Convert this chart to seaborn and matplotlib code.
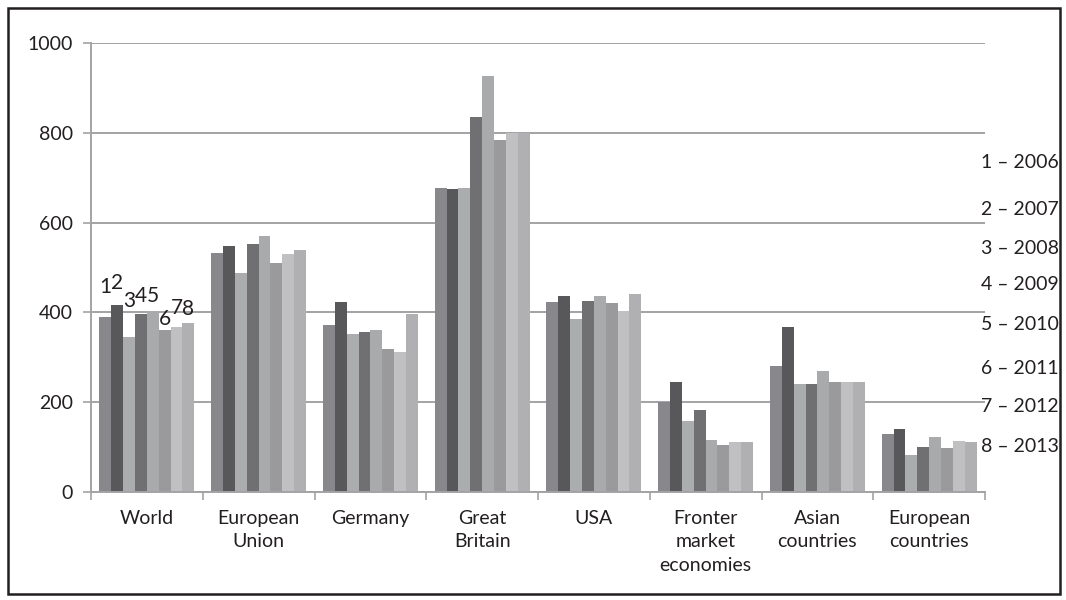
import numpy as np
import pandas as pd
import matplotlib
matplotlib.use("Agg")
import matplotlib.pyplot as plt
import seaborn as sns
from matplotlib.patches import Rectangle

categories = ["World", "European\nUnion", "Germany", "Great\nBritain", "USA",
              "Fronter\nmarket\neconomies", "Asian\ncountries", "European\ncountries"]
series_labels = ["1", "2", "3", "4", "5", "6", "7", "8"]
years = ["2006", "2007", "2008", "2009", "2010", "2011", "2012", "2013"]

v2006 = [390, 532, 372, 676, 423, 201, 281, 130]
v2007 = [416, 548, 424, 674, 436, 246, 367, 140]
v2008 = [346, 487, 352, 676, 385, 159, 240, 82]
v2009 = [396, 553, 357, 836, 426, 183, 240, 101]
v2010 = [404, 570, 361, 926, 436, 115, 269, 123]
v2011 = [361, 510, 319, 783, 420, 104, 246, 98]
v2012 = [368, 530, 312, 799, 404, 111, 246, 114]
v2013 = [376, 538, 396, 799, 442, 111, 246, 111]
series_values = [v2006, v2007, v2008, v2009, v2010, v2011, v2012, v2013]

yticks = [0, 200, 400, 600, 800, 1000]

colors = ["#88888c", "#58585b", "#abacae", "#707073", "#a9aaac", "#9a9a9d", "#c0c0c2", "#b0b0b3"]
# vertical offsets (points) of the series number labels above World bars
label_offsets = [17, 12, 21, 9, 6.5, 3.6, 9, 6]

rows = []
for lab, vals in zip(series_labels, series_values):
    for c, v in zip(categories, vals):
        rows.append({"cat": c, "series": lab, "value": v})
df = pd.DataFrame(rows)

sns.set_theme(style="white")
plt.rcParams["font.family"] = ["Lato", "DejaVu Sans"]

FS = 14
W, H = 1066, 600
fig = plt.figure(figsize=(W / 100, H / 100), dpi=100)
ax = fig.add_axes([91 / W, (H - 492) / H, (985 - 91) / W, (492 - 43) / H])

sns.barplot(data=df, x="cat", y="value", hue="series", order=categories,
            hue_order=series_labels, palette=colors, width=0.85, gap=0,
            saturation=1, ax=ax, legend=False, linewidth=0, errorbar=None)

ax.set_xlim(-0.5, len(categories) - 0.5)
ax.set_ylim(0, 1000)
ax.set_yticks(yticks)
ax.set_yticklabels([str(t) for t in yticks], fontsize=FS, color="#231f20")
ax.set_xlabel("")
ax.set_ylabel("")
ax.set_axisbelow(True)
ax.yaxis.grid(True, color="#a3a3a5", linewidth=1.4)
ax.xaxis.grid(False)

for s in ["top", "right"]:
    ax.spines[s].set_visible(False)
for s in ["left", "bottom"]:
    ax.spines[s].set_color("#a3a3a5")
    ax.spines[s].set_linewidth(1.4)

ax.tick_params(axis="y", which="major", length=6, width=1.2, color="#a3a3a5",
               direction="out", pad=7, left=True)
ax.set_xticks(range(len(categories)))
ax.set_xticklabels(categories, fontsize=FS, color="#231f20", linespacing=1.45)
ax.tick_params(axis="x", which="major", length=0, pad=13)
ax.set_xticks(np.arange(-0.5, len(categories)), minor=True)
ax.tick_params(axis="x", which="minor", length=6, width=1.2, color="#a3a3a5",
               direction="out", bottom=True)

# series number labels above World bars
for i, cont in enumerate(ax.containers):
    bar = cont.patches[0]
    xc = bar.get_x() + bar.get_width() / 2
    ax.annotate(series_labels[i], (xc, bar.get_height()), xytext=(0, label_offsets[i]),
                textcoords="offset points", ha="center", va="baseline",
                fontsize=FS + 1, color="#231f20")

# right-hand year key
key_y = [162, 209, 249, 284, 324, 369, 407, 446]
for lab, yr, yp in zip(series_labels, years, key_y):
    fig.text(981 / W, 1 - yp / H, f"{lab} – {yr}", ha="left", va="center",
             fontsize=FS, color="#231f20")

# outer frame
fig.patches.append(Rectangle((8 / W, 6 / H), (W - 14) / W, (H - 14) / H,
                             transform=fig.transFigure, fill=False,
                             edgecolor="#231f20", linewidth=1.8))

fig.savefig("out.png", dpi=100, facecolor="white")
